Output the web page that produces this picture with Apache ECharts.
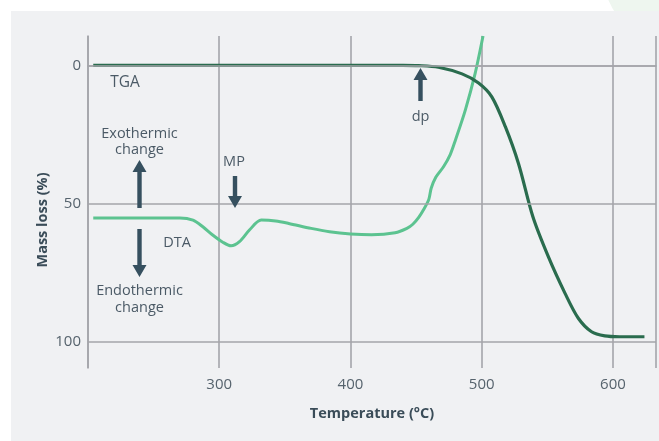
<!DOCTYPE html>
<html>
<head>
<meta charset="utf-8">
<script src="https://cdn.jsdelivr.net/npm/echarts@6/dist/echarts.min.js"></script>
<style>
html,body{margin:0;padding:0;background:#fff;}
#c{width:659px;height:441px;}
</style>
</head>
<body>
<div id="c"></div>
<script>
// ---- data ----
const xTicks = [300, 400, 500, 600];
const yTicks = [0, 50, 100];
const tga = [
  [204, 0], [440, 0], [452, 0.1], [467, 0.7], [485, 3.1], [497.6, 6.4], [507.7, 11.4],
  [518, 22.2], [528, 35.5], [539, 54.8], [551, 69.5], [563.5, 82.5],
  [573.6, 91.5], [583.7, 96.4], [593.8, 97.9], [605, 98.2], [624, 98.2]
];
const dta = [
  [204, 55.2], [270, 55.2], [280, 56], [287.5, 58.4], [295, 61.4], [302.7, 64], [309, 65.3],
  [315.4, 63.8], [323, 59.6], [332, 56], [343, 56.3], [353, 57.2], [370, 59], [384, 60.2],
  [400, 61], [416, 61.3], [434, 60.6], [443, 59], [447.5, 57.5], [452, 55], [456, 52],
  [459.7, 48.5], [461.5, 44.5], [465, 40.5], [471, 36.6], [476, 32.3], [480, 27],
  [487.5, 16.2], [495, 2.9], [501, -10.6]
];
const xName = 'Temperature (°C)';
const yName = 'Mass loss (%)';

const gridCol = '#a4a5aa';
const txtCol = '#56636d';
const arrowCol = '#36505f';
const font = '"Open Sans", "Noto Sans", sans-serif';

const chart = echarts.init(document.getElementById('c'));

function arrow(cx, tipY, tailY) {
  const up = tipY < tailY;
  const hh = up ? 12 : -12, hw = 7, sw = 2.2;
  const hb = tipY + hh;
  return {
    type: 'polygon',
    shape: { points: [[cx - sw, tailY], [cx - sw, hb], [cx - hw, hb], [cx, tipY], [cx + hw, hb], [cx + sw, hb], [cx + sw, tailY]] },
    style: { fill: arrowCol },
    z: 10
  };
}
function label(text, x, y, size) {
  return {
    type: 'text', x: x, y: y, z: 10,
    style: { text: text, fill: '#4b5a66', font: (size || 14.5) + 'px ' + font, align: 'center', verticalAlign: 'middle' }
  };
}

chart.setOption({
  backgroundColor: '#ffffff',
  animation: false,
  grid: { left: 88, right: 1, top: 36, bottom: 73 },
  xAxis: {
    type: 'value', min: 200, max: 632.8, interval: 100,
    axisLine: { show: true, lineStyle: { color: gridCol, width: 1.6 } },
    axisTick: { show: false },
    axisLabel: {
      color: txtCol, fontSize: 15, fontFamily: font, margin: 9,
      formatter: v => xTicks.indexOf(v) >= 0 ? String(v) : ''
    },
    splitLine: { show: true, lineStyle: { color: gridCol, width: 1.6 } },
    name: xName, nameLocation: 'middle', nameGap: 38,
    nameTextStyle: { color: '#3a4c58', fontSize: 14.5, fontWeight: 'bold', fontFamily: font }
  },
  yAxis: {
    type: 'value', inverse: true, min: -10.6, max: 109.5,
    axisLine: { show: true, onZero: false, lineStyle: { color: gridCol, width: 1.6 } },
    axisTick: { show: false },
    axisLabel: { color: txtCol, fontSize: 15, fontFamily: font, margin: 7, customValues: yTicks },
    splitLine: { show: false }
  },
  series: [
    {
      type: 'line', data: [], z: 1, silent: true,
      markLine: {
        silent: true, symbol: 'none', animation: false,
        label: { show: false },
        lineStyle: { color: gridCol, width: 1.6, type: 'solid' },
        data: yTicks.map(v => ({ yAxis: v }))
      }
    },
    {
      name: 'DTA', type: 'line', data: dta, smooth: 0.3, showSymbol: false, z: 3,
      lineStyle: { color: '#5cc390', width: 3 }, clip: true
    },
    {
      name: 'TGA', type: 'line', data: tga, smooth: 0.3, showSymbol: false, z: 4,
      lineStyle: { color: '#2a6c4e', width: 3.2 }, clip: true
    }
  ],
  graphic: [
    { type: 'circle', shape: { cx: 700, cy: -40, r: 100 }, style: { fill: '#eef6ef' }, z: -20, silent: true },
    { type: 'rect', shape: { x: 11, y: 11, width: 660, height: 440 }, style: { fill: '#f0f1f3' }, z: -10, silent: true },
    label('TGA', 125, 83, 15.5),
    label('Exothermic', 139.5, 133.5),
    label('change', 139.5, 150),
    arrow(139.5, 160, 208),
    label('MP', 234, 162),
    arrow(235, 208, 176),
    label('DTA', 177, 243),
    arrow(139.5, 277, 229),
    label('Endothermic', 139.5, 291),
    label('change', 139.5, 307.5),
    arrow(420.5, 68, 101),
    label('dp', 420.5, 116.5),
    {
      type: 'text', x: 43, y: 220, rotation: Math.PI / 2, z: 10,
      style: { text: yName, fill: '#3a4c58', font: 'bold 14.5px ' + font, align: 'center', verticalAlign: 'middle' }
    }
  ]
});
</script>
</body>
</html>
